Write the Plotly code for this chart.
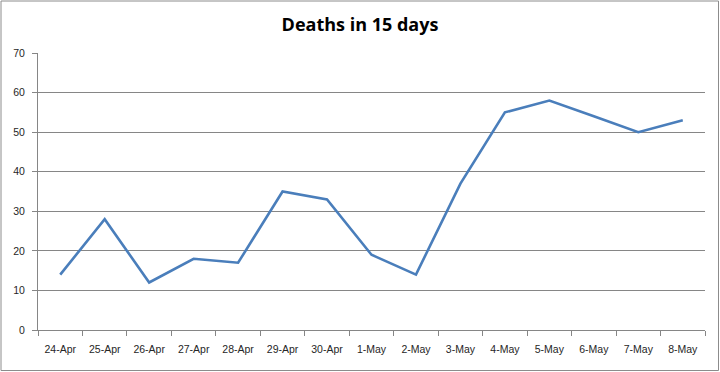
import plotly.graph_objects as go

dates = ["24-Apr", "25-Apr", "26-Apr", "27-Apr", "28-Apr", "29-Apr", "30-Apr",
         "1-May", "2-May", "3-May", "4-May", "5-May", "6-May", "7-May", "8-May"]
deaths = [14, 28, 12, 18, 17, 35, 33, 19, 14, 37, 55, 58, 54, 50, 53]
y_ticks = [0, 10, 20, 30, 40, 50, 60, 70]

W, H = 720, 372
ml, mr, mt, mb = 38, 15, 53, 42
pw, ph = W - ml - mr, H - mt - mb

fig = go.Figure(go.Scatter(
    x=dates, y=deaths, mode="lines",
    line=dict(color="#4a7ebb", width=2.6),
))

def px_x(p):
    return (p - ml) / pw

def px_y(p):
    return 1 - (p - mt) / ph

fig.add_shape(type="rect", xref="paper", yref="paper",
              x0=px_x(1), x1=px_x(718.5), y0=px_y(370.5), y1=px_y(1),
              line=dict(color="#8c8c8c", width=1), fillcolor="rgba(0,0,0,0)")

fig.update_layout(
    width=W, height=H,
    margin=dict(l=ml, r=mr, t=mt, b=mb),
    paper_bgcolor="white", plot_bgcolor="white",
    showlegend=False,
    title=dict(text="<b>Deaths in 15 days</b>", x=0.5, xanchor="center",
               y=1 - 25 / H, yanchor="middle",
               font=dict(family="Open Sans, Lato, sans-serif", size=18, color="#000000")),
    font=dict(family="Liberation Sans, Arial, sans-serif", size=11, color="#262626"),
    xaxis=dict(
        type="category", showgrid=False, showline=True, linecolor="#868686",
        ticks="outside", tickson="boundaries", ticklen=5, tickcolor="#868686",
        tickfont=dict(size=10.5, color="#262626"), range=[-0.5, 14.5],
        ticklabelstandoff=9,
    ),
    yaxis=dict(
        range=[0, 70], tickvals=y_ticks, showgrid=True, gridcolor="#868686",
        gridwidth=1, showline=True, linecolor="#868686", ticks="outside",
        ticklen=5, tickcolor="#868686", zeroline=False,
        tickfont=dict(size=10.5, color="#262626"), ticklabelstandoff=5,
    ),
)

fig.write_html("out.html", config={"displayModeBar": False},
               post_script="document.body.style.margin='0';document.body.style.padding='0';")
